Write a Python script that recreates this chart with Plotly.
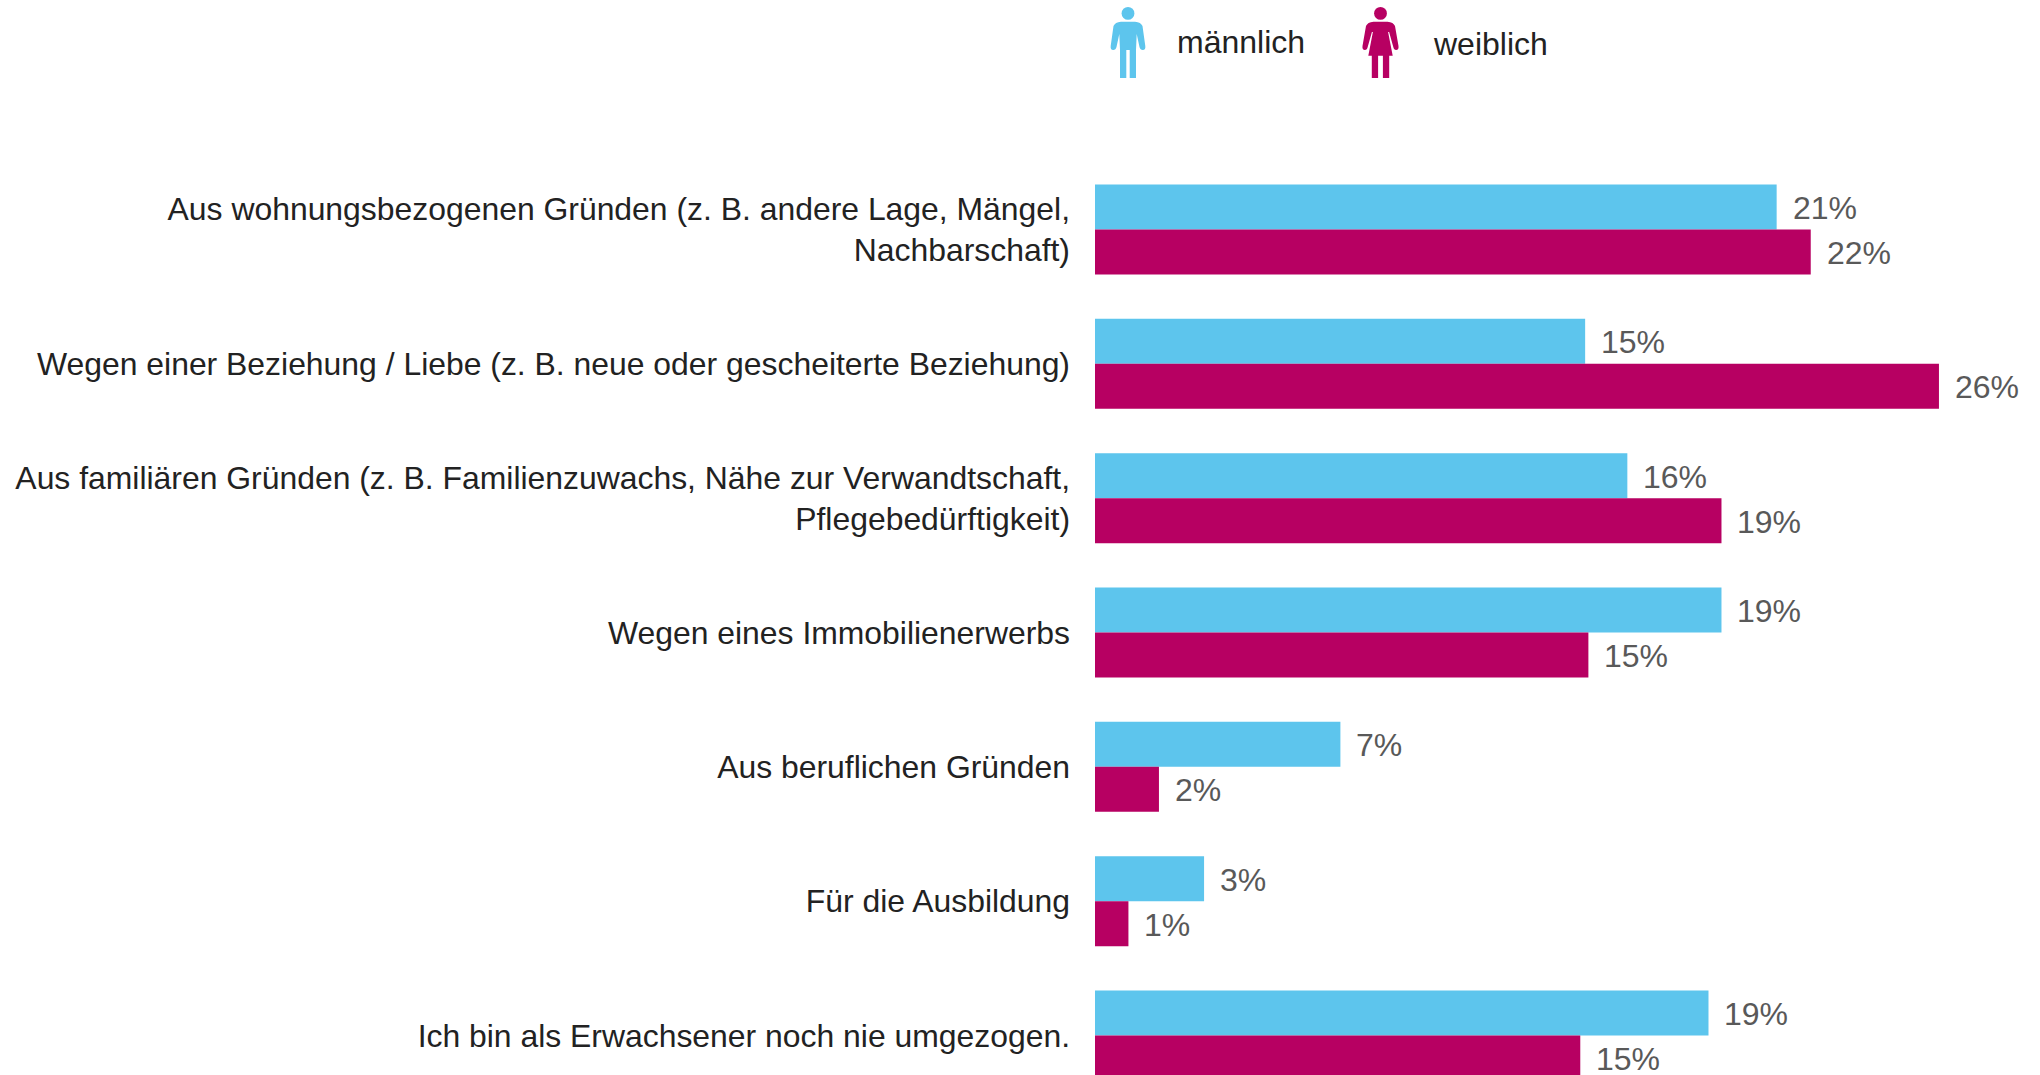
import plotly.graph_objects as go

categories = [
    "Aus wohnungsbezogenen Gründen (z. B. andere Lage, Mängel,<br>Nachbarschaft)",
    "Wegen einer Beziehung / Liebe (z. B. neue oder gescheiterte Beziehung)",
    "Aus familiären Gründen (z. B. Familienzuwachs, Nähe zur Verwandtschaft,<br>Pflegebedürftigkeit)",
    "Wegen eines Immobilienerwerbs",
    "Aus beruflichen Gründen",
    "Für die Ausbildung",
    "Ich bin als Erwachsener noch nie umgezogen.",
]
male = [21.0, 15.1, 16.4, 19.3, 7.56, 3.36, 18.9]
female = [22.05, 26.0, 19.3, 15.2, 1.97, 1.03, 14.95]
male_labels = ["21%", "15%", "16%", "19%", "7%", "3%", "19%"]
female_labels = ["22%", "26%", "19%", "15%", "2%", "1%", "15%"]

W, H = 2040, 1075
LEFT = 1095
BLUE, RED = "#5DC5ED", "#B70062"
FONT = "Liberation Sans, Arial, sans-serif"
PITCH = 134.33
FIRST = 229.5
SCALE = 32.46


def px(x):
    return (x - LEFT) / (W - LEFT)


def py(y):
    return 1 - y / H


def build(cx, segs):
    """segs: points relative to the icon axis; 2 pairs = line, 4 pairs = quadratic curve."""
    out = []
    for i, s in enumerate(segs):
        if len(s) == 2:
            out.append(("M" if i == 0 else "L") + f"{px(cx + s[0]):.5f},{py(s[1]):.5f}")
        else:
            out.append(f"Q{px(cx + s[0]):.5f},{py(s[1]):.5f} {px(cx + s[2]):.5f},{py(s[3]):.5f}")
    return " ".join(out) + " Z"


MALE_R = [(-7, 21.7), (7, 21.7), (13, 22.3, 14.5, 26), (17.3, 46), (17.8, 50, 14.8, 50), (12.2, 50, 11.5, 47), (8.7, 34)]
MALE_L = [(-8.7, 34), (-11.5, 47), (-12.2, 50, -14.8, 50), (-17.8, 50, -17.3, 46), (-14.5, 26), (-13, 22.3, -7, 21.7)]
MALE_LOWER = [(8, 50), (8, 78), (1.7, 78), (1.7, 50), (-1.7, 50), (-1.7, 78), (-8, 78), (-8, 50)]
FEMALE_R = [(-7, 21.7), (7, 21.7), (13, 22.3, 14.5, 26), (18, 46), (18.5, 50, 15.6, 50), (13.4, 50, 12.8, 47), (8.6, 32)]
FEMALE_L = [(-8.6, 32), (-12.8, 47), (-13.4, 50, -15.6, 50), (-18.5, 50, -18, 46), (-14.5, 26), (-13, 22.3, -7, 21.7)]
FEMALE_LOWER = [(7.6, 32), (12.2, 55.7), (8.7, 55.7), (8.7, 78), (2.4, 78), (2.4, 55.7), (-2.4, 55.7), (-2.4, 78), (-8.7, 78), (-8.7, 55.7), (-12.2, 55.7), (-7.6, 32)]


def icon_shapes(cx, color, right, lower, left):
    head = dict(type="circle", xref="paper", yref="paper", fillcolor=color, line_width=0,
                x0=px(cx - 6.4), x1=px(cx + 6.4), y0=py(19.8), y1=py(7))
    body = dict(type="path", xref="paper", yref="paper", fillcolor=color, line_width=0,
                path=build(cx, right + lower + left))
    return [head, body]


fig = go.Figure()
fig.add_bar(y=categories, x=male, orientation="h", marker_color=BLUE, marker_line_width=0, name="männlich")
fig.add_bar(y=categories, x=female, orientation="h", marker_color=RED, marker_line_width=0, name="weiblich")

annotations = []
for cat, m, f, ml, fl in zip(categories, male, female, male_labels, female_labels):
    for val, lab, shift in ((m, ml, 21.5), (f, fl, -23.5)):
        annotations.append(dict(x=val, y=cat, text=lab, showarrow=False, xanchor="left", xshift=14,
                                yshift=shift, font=dict(family=FONT, size=32, color="#595959")))
for text, x, y in (("männlich", 1177, 42), ("weiblich", 1433, 44)):
    annotations.append(dict(xref="paper", yref="paper", x=px(x), y=py(y), text=text, showarrow=False,
                            xanchor="left", yanchor="middle", xshift=-2,
                            font=dict(family=FONT, size=32, color="#222222")))

fig.update_layout(
    width=W, height=H, autosize=False, showlegend=False,
    barmode="group", bargap=0.33, bargroupgap=0,
    margin=dict(l=LEFT, r=0, t=0, b=0),
    paper_bgcolor="white", plot_bgcolor="white",
    annotations=annotations,
    shapes=icon_shapes(1128, BLUE, MALE_R, MALE_LOWER, MALE_L) + icon_shapes(1380.5, RED, FEMALE_R, FEMALE_LOWER, FEMALE_L),
    font=dict(family=FONT),
)
fig.update_xaxes(range=[0, (W - LEFT) / SCALE], visible=False)
fig.update_yaxes(
    type="category", categoryorder="array", categoryarray=categories,
    range=[(H - FIRST) / PITCH, -FIRST / PITCH],
    showgrid=False, zeroline=False, showline=False, ticks="",
    ticklabelstandoff=24, automargin=False,
    tickfont=dict(family=FONT, size=31.9, color="#222222"),
)
fig.write_html("out.html", config=dict(displayModeBar=False),
               post_script="document.body.style.margin='0';document.documentElement.style.overflow='hidden';")
